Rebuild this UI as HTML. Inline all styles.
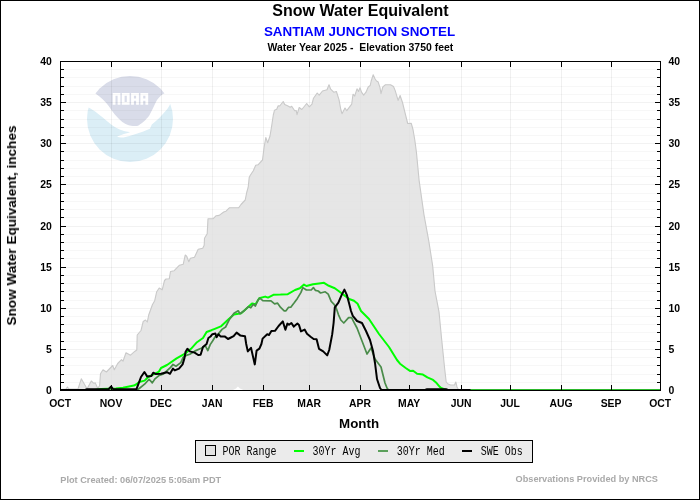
<!DOCTYPE html>
<html><head><meta charset="utf-8"><title>Snow Water Equivalent</title>
<style>html,body{margin:0;padding:0;background:#fff;}svg{display:block;}</style></head>
<body>
<svg width="700" height="500" viewBox="0 0 700 500">
<rect x="0" y="0" width="700" height="500" fill="#fff"/>
<g id="logo">
<clipPath id="cc"><circle cx="130" cy="119" r="43"/></clipPath>
<g clip-path="url(#cc)">
<path d="M80,70 H180 V93 L164.5,93.2 C162,94.5 159.5,96.5 157,100.1 C155.5,103 154.4,105.5 153.1,107.9 L149.3,115.6 C147.5,118 146,119.5 144.1,121.3 C142,123 140.5,124.2 139,125.2 C137.5,126 136,126.2 134.5,126.1 C132,126 130,125.6 128.7,125.2 C126,124.2 124,123.2 122.3,122 C119.5,119.6 117,117 114.6,114.3 C112,111 110,108 108.1,105.3 C105,101 101,97.5 95,93.2 L80,93 Z" fill="#d9dce9"/>
<path d="M82,104.5 L88.2,107.2 C94,110 101,116 108.1,122 C113,126 118,129.5 124,131 C127,131.6 129,132 130,132.3 C124,134 119,135.5 117.1,136.8 C119,137.6 121,137.6 123.6,137.4 C131,136 140,132.8 149.9,128.7 L151.8,124.6 C157,120.7 162,115.6 167.3,109.1 C169,106.5 170,104.5 170.5,102.7 L178,100 V165 H82 Z" fill="#dbeef6"/>
</g>
<g fill="#fff">
<path d="M112.7,104.7 V93.1 H120.4 V104.7 H117.6 V95.7 H115.5 V104.7 Z"/>
<path d="M121.8,93.1 H129.6 V104.7 H121.8 Z M124.6,95.7 V102.1 H126.8 V95.7 Z" fill-rule="evenodd"/>
<path d="M131.1,104.7 V93.1 H138.9 V104.7 H136.1 V100.8 H133.9 V104.7 Z M133.9,95.7 V98.4 H136.1 V95.7 Z" fill-rule="evenodd"/>
<path d="M140.4,104.7 V93.1 H148.2 V104.7 H145.4 V100.8 H143.2 V104.7 Z M143.2,95.7 V98.4 H145.4 V95.7 Z" fill-rule="evenodd"/>
</g>
</g>
<g shape-rendering="crispEdges">
<rect x="61" y="382" width="599" height="1" fill="#000" fill-opacity="0.033"/>
<rect x="61" y="374" width="599" height="1" fill="#000" fill-opacity="0.033"/>
<rect x="61" y="365" width="599" height="1" fill="#000" fill-opacity="0.033"/>
<rect x="61" y="357" width="599" height="1" fill="#000" fill-opacity="0.033"/>
<rect x="61" y="349" width="599" height="1" fill="#000" fill-opacity="0.05"/>
<rect x="61" y="341" width="599" height="1" fill="#000" fill-opacity="0.033"/>
<rect x="61" y="332" width="599" height="1" fill="#000" fill-opacity="0.033"/>
<rect x="61" y="324" width="599" height="1" fill="#000" fill-opacity="0.033"/>
<rect x="61" y="316" width="599" height="1" fill="#000" fill-opacity="0.033"/>
<rect x="61" y="308" width="599" height="1" fill="#000" fill-opacity="0.05"/>
<rect x="61" y="300" width="599" height="1" fill="#000" fill-opacity="0.033"/>
<rect x="61" y="291" width="599" height="1" fill="#000" fill-opacity="0.033"/>
<rect x="61" y="283" width="599" height="1" fill="#000" fill-opacity="0.033"/>
<rect x="61" y="275" width="599" height="1" fill="#000" fill-opacity="0.033"/>
<rect x="61" y="267" width="599" height="1" fill="#000" fill-opacity="0.05"/>
<rect x="61" y="258" width="599" height="1" fill="#000" fill-opacity="0.033"/>
<rect x="61" y="250" width="599" height="1" fill="#000" fill-opacity="0.033"/>
<rect x="61" y="242" width="599" height="1" fill="#000" fill-opacity="0.033"/>
<rect x="61" y="234" width="599" height="1" fill="#000" fill-opacity="0.033"/>
<rect x="61" y="226" width="599" height="1" fill="#000" fill-opacity="0.05"/>
<rect x="61" y="217" width="599" height="1" fill="#000" fill-opacity="0.033"/>
<rect x="61" y="209" width="599" height="1" fill="#000" fill-opacity="0.033"/>
<rect x="61" y="201" width="599" height="1" fill="#000" fill-opacity="0.033"/>
<rect x="61" y="193" width="599" height="1" fill="#000" fill-opacity="0.033"/>
<rect x="61" y="184" width="599" height="1" fill="#000" fill-opacity="0.05"/>
<rect x="61" y="176" width="599" height="1" fill="#000" fill-opacity="0.033"/>
<rect x="61" y="168" width="599" height="1" fill="#000" fill-opacity="0.033"/>
<rect x="61" y="160" width="599" height="1" fill="#000" fill-opacity="0.033"/>
<rect x="61" y="151" width="599" height="1" fill="#000" fill-opacity="0.033"/>
<rect x="61" y="143" width="599" height="1" fill="#000" fill-opacity="0.05"/>
<rect x="61" y="135" width="599" height="1" fill="#000" fill-opacity="0.033"/>
<rect x="61" y="127" width="599" height="1" fill="#000" fill-opacity="0.033"/>
<rect x="61" y="119" width="599" height="1" fill="#000" fill-opacity="0.033"/>
<rect x="61" y="110" width="599" height="1" fill="#000" fill-opacity="0.033"/>
<rect x="61" y="102" width="599" height="1" fill="#000" fill-opacity="0.05"/>
<rect x="61" y="94" width="599" height="1" fill="#000" fill-opacity="0.033"/>
<rect x="61" y="86" width="599" height="1" fill="#000" fill-opacity="0.033"/>
<rect x="61" y="77" width="599" height="1" fill="#000" fill-opacity="0.033"/>
<rect x="61" y="69" width="599" height="1" fill="#000" fill-opacity="0.033"/>
<rect x="111" y="62" width="1" height="328" fill="#000" fill-opacity="0.06"/>
<rect x="161" y="62" width="1" height="328" fill="#000" fill-opacity="0.06"/>
<rect x="212" y="62" width="1" height="328" fill="#000" fill-opacity="0.06"/>
<rect x="263" y="62" width="1" height="328" fill="#000" fill-opacity="0.06"/>
<rect x="309" y="62" width="1" height="328" fill="#000" fill-opacity="0.06"/>
<rect x="360" y="62" width="1" height="328" fill="#000" fill-opacity="0.06"/>
<rect x="409" y="62" width="1" height="328" fill="#000" fill-opacity="0.06"/>
<rect x="461" y="62" width="1" height="328" fill="#000" fill-opacity="0.06"/>
<rect x="510" y="62" width="1" height="328" fill="#000" fill-opacity="0.06"/>
<rect x="561" y="62" width="1" height="328" fill="#000" fill-opacity="0.06"/>
<rect x="611" y="62" width="1" height="328" fill="#000" fill-opacity="0.06"/>
</g>
<polygon points="60.5,389.5 66.0,389.0 67.4,387.0 69.0,389.0 78.0,389.0 81.3,378.8 86.6,388.0 87.5,388.0 91.3,381.0 93.8,383.3 95.3,382.9 97.8,388.5 99.6,385.5 100.5,373.8 103.0,369.8 106.4,372.0 112.7,365.5 114.3,369.8 117.7,363.5 121.5,359.7 123.0,361.2 126.0,352.7 130.5,355.2 135.0,351.2 136.8,350.0 137.2,335.0 141.0,330.5 143.2,321.5 145.5,320.0 147.3,322.0 148.7,315.0 152.5,304.5 154.7,300.7 156.7,291.7 159.2,288.0 162.2,289.8 164.5,280.5 166.0,279.0 169.3,278.7 170.5,271.5 174.2,270.7 179.5,265.2 183.2,264.3 185.2,255.0 186.7,256.2 188.8,261.7 190.4,258.3 194.5,257.2 198.2,249.3 202.7,248.2 204.2,245.2 204.5,238.2 207.2,233.7 208.0,218.7 213.2,218.7 216.2,215.7 219.2,215.4 223.7,212.0 226.0,211.2 229.3,207.8 238.7,207.8 241.0,204.5 245.2,200.0 246.7,192.5 248.2,187.2 249.2,177.5 250.3,175.2 253.3,170.7 255.7,165.2 258.0,164.8 262.5,160.0 264.0,148.0 265.8,137.5 267.7,142.7 270.0,136.0 271.5,127.0 273.3,115.0 274.5,110.2 276.7,109.3 278.2,105.7 279.7,106.0 283.2,101.5 284.7,104.5 288.0,106.0 290.2,107.2 291.7,106.3 294.7,110.8 296.2,110.5 297.0,114.7 299.2,107.5 301.8,109.5 306.7,103.5 309.3,106.8 312.0,104.2 313.5,98.2 317.2,93.0 319.2,95.2 322.5,91.0 327.0,89.7 329.0,84.7 330.7,89.2 333.7,92.2 336.4,91.5 339.0,99.7 340.8,109.5 342.0,113.7 345.0,108.0 346.8,110.7 351.7,104.2 353.0,94.2 354.7,96.0 357.0,88.8 358.5,91.5 360.0,87.7 361.5,92.2 363.7,95.2 366.0,92.2 368.2,87.0 370.2,85.5 371.2,81.0 373.2,74.7 375.0,78.7 376.5,81.0 378.0,81.7 380.0,87.7 381.0,93.7 382.8,87.0 385.5,84.7 390.5,84.8 393.5,86.5 395.2,90.6 398.1,100.4 400.1,95.5 402.5,102.5 404.7,111.5 407.7,123.5 411.2,123.2 413.0,129.5 414.8,140.0 416.4,152.0 419.2,181.2 424.0,214.8 428.8,241.2 432.7,266.0 435.0,291.0 439.0,311.8 441.5,337.7 444.7,369.0 446.2,382.0 448.0,384.0 450.6,385.0 454.5,385.0 455.8,382.0 457.0,387.0 458.4,389.5 460.0,389.5 460,390.5 244.5,390.5 240,388.6 237.9,386.4 236,388.6 232,390.5 60.5,390.5" fill="#e0e0e0" fill-opacity="0.8"/>
<polyline points="60.5,389.5 66.0,389.0 67.4,387.0 69.0,389.0 78.0,389.0 81.3,378.8 86.6,388.0 87.5,388.0 91.3,381.0 93.8,383.3 95.3,382.9 97.8,388.5 99.6,385.5 100.5,373.8 103.0,369.8 106.4,372.0 112.7,365.5 114.3,369.8 117.7,363.5 121.5,359.7 123.0,361.2 126.0,352.7 130.5,355.2 135.0,351.2 136.8,350.0 137.2,335.0 141.0,330.5 143.2,321.5 145.5,320.0 147.3,322.0 148.7,315.0 152.5,304.5 154.7,300.7 156.7,291.7 159.2,288.0 162.2,289.8 164.5,280.5 166.0,279.0 169.3,278.7 170.5,271.5 174.2,270.7 179.5,265.2 183.2,264.3 185.2,255.0 186.7,256.2 188.8,261.7 190.4,258.3 194.5,257.2 198.2,249.3 202.7,248.2 204.2,245.2 204.5,238.2 207.2,233.7 208.0,218.7 213.2,218.7 216.2,215.7 219.2,215.4 223.7,212.0 226.0,211.2 229.3,207.8 238.7,207.8 241.0,204.5 245.2,200.0 246.7,192.5 248.2,187.2 249.2,177.5 250.3,175.2 253.3,170.7 255.7,165.2 258.0,164.8 262.5,160.0 264.0,148.0 265.8,137.5 267.7,142.7 270.0,136.0 271.5,127.0 273.3,115.0 274.5,110.2 276.7,109.3 278.2,105.7 279.7,106.0 283.2,101.5 284.7,104.5 288.0,106.0 290.2,107.2 291.7,106.3 294.7,110.8 296.2,110.5 297.0,114.7 299.2,107.5 301.8,109.5 306.7,103.5 309.3,106.8 312.0,104.2 313.5,98.2 317.2,93.0 319.2,95.2 322.5,91.0 327.0,89.7 329.0,84.7 330.7,89.2 333.7,92.2 336.4,91.5 339.0,99.7 340.8,109.5 342.0,113.7 345.0,108.0 346.8,110.7 351.7,104.2 353.0,94.2 354.7,96.0 357.0,88.8 358.5,91.5 360.0,87.7 361.5,92.2 363.7,95.2 366.0,92.2 368.2,87.0 370.2,85.5 371.2,81.0 373.2,74.7 375.0,78.7 376.5,81.0 378.0,81.7 380.0,87.7 381.0,93.7 382.8,87.0 385.5,84.7 390.5,84.8 393.5,86.5 395.2,90.6 398.1,100.4 400.1,95.5 402.5,102.5 404.7,111.5 407.7,123.5 411.2,123.2 413.0,129.5 414.8,140.0 416.4,152.0 419.2,181.2 424.0,214.8 428.8,241.2 432.7,266.0 435.0,291.0 439.0,311.8 441.5,337.7 444.7,369.0 446.2,382.0 448.0,384.0 450.6,385.0 454.5,385.0 455.8,382.0 457.0,387.0 458.4,389.5 460.0,389.5" fill="none" stroke="#c9c9c9" stroke-width="1.1" stroke-linejoin="round"/>
<clipPath id="pc"><rect x="60" y="61" width="601" height="330"/></clipPath>
<g clip-path="url(#pc)" fill="none" stroke-width="2" stroke-linejoin="round" stroke-linecap="butt">
<polyline points="60.5,390.0 95.0,390.0 101.0,388.9 108.0,388.8 116.0,388.6 123.0,387.8 133.8,385.6 136.0,384.5 139.2,382.0 144.6,380.6 148.2,377.0 153.6,374.3 159.0,371.6 161.0,368.0 167.0,365.0 176.6,358.4 185.0,353.6 191.0,348.8 197.0,342.2 203.0,338.0 206.6,332.0 211.4,330.2 214.8,328.8 220.8,326.4 228.0,319.8 234.0,314.4 241.2,313.2 246.0,309.0 252.0,303.6 255.6,304.2 259.2,298.2 265.2,296.6 268.0,297.6 273.4,294.8 280.6,294.6 287.8,294.2 295.0,290.0 299.8,288.2 304.0,284.6 306.4,286.0 313.0,284.2 319.0,283.4 324.0,282.8 328.8,285.8 334.8,288.2 339.6,291.8 344.4,295.4 349.2,299.0 354.0,300.8 357.6,303.8 361.0,311.0 369.0,319.0 379.0,334.0 389.0,347.0 397.0,360.0 400.0,363.7 405.7,368.0 410.3,371.1 413.1,370.8 417.1,373.8 422.9,374.6 427.4,377.4 433.1,379.9 436.6,383.1 440.0,387.1 441.7,388.3 446.3,390.0 660.5,390.0" stroke="#00ff00"/>
<polyline points="60.5,390.0 137.4,390.0 144.6,384.2 149.1,379.3 152.3,382.9 155.0,378.8 158.6,375.8 163.4,374.0 170.6,367.4 173.0,364.4 176.0,366.2 180.8,362.6 183.2,357.2 186.2,355.4 189.8,354.2 195.8,350.6 201.2,348.2 205.4,345.8 207.8,350.6 210.2,344.6 212.6,341.0 215.0,337.0 217.2,335.4 222.0,329.4 225.6,327.0 229.2,319.8 234.0,313.2 238.2,310.8 240.0,313.8 244.8,310.2 248.4,306.6 250.8,307.8 253.2,304.2 255.4,306.0 258.0,300.0 259.8,298.2 262.8,300.6 271.0,300.8 274.6,303.8 277.6,303.2 280.6,307.4 284.2,310.8 286.0,310.8 288.4,307.4 290.8,307.2 294.4,302.6 297.4,298.4 301.0,292.4 302.8,287.6 306.4,290.0 311.2,290.0 313.4,287.6 315.5,290.4 318.2,291.0 320.6,293.0 325.2,291.8 328.2,294.2 331.2,301.4 333.6,303.8 336.0,307.4 338.4,314.6 340.8,320.0 343.8,323.0 348.6,317.6 351.6,317.6 354.0,322.4 357.0,328.0 362.0,341.0 367.0,354.0 371.0,348.0 375.0,359.0 381.0,367.0 385.0,383.0 387.0,388.0 388.5,390.0 660.5,390.0" stroke="#4a8c4a" stroke-width="1.7"/>
<rect x="388" y="389" width="272" height="1" fill="#2db82d" stroke="none" shape-rendering="crispEdges"/>
<polyline points="60.5,390.0 85.0,390.0 87.0,389.2 108.5,389.2 111.2,386.5 113.0,389.0 136.5,389.2 141.0,377.0 144.4,372.0 147.3,376.6 151.4,376.0 153.2,372.7 155.5,373.9 161.0,373.8 167.0,372.2 170.0,373.8 173.0,368.6 174.8,370.4 179.0,368.6 182.6,364.4 184.4,358.4 185.6,351.8 187.4,348.8 189.8,351.4 194.6,352.6 198.2,355.0 200.6,354.8 203.0,347.0 206.6,344.0 208.4,338.0 210.5,336.5 212.4,334.2 215.4,333.6 216.6,337.2 218.4,334.2 220.8,336.6 225.0,336.6 228.0,339.0 230.0,338.0 233.6,336.2 236.6,332.6 240.2,335.4 245.0,336.2 246.2,344.0 247.8,351.4 251.0,347.8 253.4,358.4 254.8,364.4 256.6,350.6 259.4,348.6 261.4,344.0 262.6,338.6 267.2,334.2 269.0,335.0 271.4,331.0 275.0,330.8 278.6,326.0 282.8,321.4 285.4,329.8 287.4,323.6 289.0,324.8 291.4,323.0 293.8,326.6 297.4,323.6 299.0,325.0 301.0,331.4 304.6,329.6 307.0,333.8 310.6,336.8 313.6,339.0 316.6,339.2 319.0,348.8 323.2,351.4 327.2,355.4 329.2,350.0 332.2,334.4 333.6,323.0 334.8,307.4 338.4,302.6 342.0,294.2 344.4,289.6 346.8,294.8 349.2,303.8 351.0,311.0 352.8,315.8 357.0,321.0 362.0,323.0 366.0,331.0 370.0,340.0 373.0,351.0 375.0,363.0 377.0,379.0 380.0,388.0 381.5,390.0 425.0,390.0 427.0,389.3 432.0,389.3 434.0,389.2 446.0,389.2 448.0,390.0 470.5,390.0" stroke="#000"/>
</g>
<g shape-rendering="crispEdges" fill="#000">
<rect x="60" y="61" width="601" height="1"/><rect x="60" y="390" width="601" height="1"/><rect x="60" y="61" width="1" height="330"/><rect x="660" y="61" width="1" height="330"/>
<rect x="61" y="382" width="3" height="1"/><rect x="657" y="382" width="3" height="1"/>
<rect x="61" y="374" width="3" height="1"/><rect x="657" y="374" width="3" height="1"/>
<rect x="61" y="365" width="3" height="1"/><rect x="657" y="365" width="3" height="1"/>
<rect x="61" y="357" width="3" height="1"/><rect x="657" y="357" width="3" height="1"/>
<rect x="61" y="349" width="5" height="1"/><rect x="655" y="349" width="5" height="1"/>
<rect x="61" y="341" width="3" height="1"/><rect x="657" y="341" width="3" height="1"/>
<rect x="61" y="332" width="3" height="1"/><rect x="657" y="332" width="3" height="1"/>
<rect x="61" y="324" width="3" height="1"/><rect x="657" y="324" width="3" height="1"/>
<rect x="61" y="316" width="3" height="1"/><rect x="657" y="316" width="3" height="1"/>
<rect x="61" y="308" width="5" height="1"/><rect x="655" y="308" width="5" height="1"/>
<rect x="61" y="300" width="3" height="1"/><rect x="657" y="300" width="3" height="1"/>
<rect x="61" y="291" width="3" height="1"/><rect x="657" y="291" width="3" height="1"/>
<rect x="61" y="283" width="3" height="1"/><rect x="657" y="283" width="3" height="1"/>
<rect x="61" y="275" width="3" height="1"/><rect x="657" y="275" width="3" height="1"/>
<rect x="61" y="267" width="5" height="1"/><rect x="655" y="267" width="5" height="1"/>
<rect x="61" y="258" width="3" height="1"/><rect x="657" y="258" width="3" height="1"/>
<rect x="61" y="250" width="3" height="1"/><rect x="657" y="250" width="3" height="1"/>
<rect x="61" y="242" width="3" height="1"/><rect x="657" y="242" width="3" height="1"/>
<rect x="61" y="234" width="3" height="1"/><rect x="657" y="234" width="3" height="1"/>
<rect x="61" y="226" width="5" height="1"/><rect x="655" y="226" width="5" height="1"/>
<rect x="61" y="217" width="3" height="1"/><rect x="657" y="217" width="3" height="1"/>
<rect x="61" y="209" width="3" height="1"/><rect x="657" y="209" width="3" height="1"/>
<rect x="61" y="201" width="3" height="1"/><rect x="657" y="201" width="3" height="1"/>
<rect x="61" y="193" width="3" height="1"/><rect x="657" y="193" width="3" height="1"/>
<rect x="61" y="184" width="5" height="1"/><rect x="655" y="184" width="5" height="1"/>
<rect x="61" y="176" width="3" height="1"/><rect x="657" y="176" width="3" height="1"/>
<rect x="61" y="168" width="3" height="1"/><rect x="657" y="168" width="3" height="1"/>
<rect x="61" y="160" width="3" height="1"/><rect x="657" y="160" width="3" height="1"/>
<rect x="61" y="151" width="3" height="1"/><rect x="657" y="151" width="3" height="1"/>
<rect x="61" y="143" width="5" height="1"/><rect x="655" y="143" width="5" height="1"/>
<rect x="61" y="135" width="3" height="1"/><rect x="657" y="135" width="3" height="1"/>
<rect x="61" y="127" width="3" height="1"/><rect x="657" y="127" width="3" height="1"/>
<rect x="61" y="119" width="3" height="1"/><rect x="657" y="119" width="3" height="1"/>
<rect x="61" y="110" width="3" height="1"/><rect x="657" y="110" width="3" height="1"/>
<rect x="61" y="102" width="5" height="1"/><rect x="655" y="102" width="5" height="1"/>
<rect x="61" y="94" width="3" height="1"/><rect x="657" y="94" width="3" height="1"/>
<rect x="61" y="86" width="3" height="1"/><rect x="657" y="86" width="3" height="1"/>
<rect x="61" y="77" width="3" height="1"/><rect x="657" y="77" width="3" height="1"/>
<rect x="61" y="69" width="3" height="1"/><rect x="657" y="69" width="3" height="1"/>
<rect x="111" y="62" width="1" height="5"/><rect x="111" y="385" width="1" height="5"/>
<rect x="161" y="62" width="1" height="5"/><rect x="161" y="385" width="1" height="5"/>
<rect x="212" y="62" width="1" height="5"/><rect x="212" y="385" width="1" height="5"/>
<rect x="263" y="62" width="1" height="5"/><rect x="263" y="385" width="1" height="5"/>
<rect x="309" y="62" width="1" height="5"/><rect x="309" y="385" width="1" height="5"/>
<rect x="360" y="62" width="1" height="5"/><rect x="360" y="385" width="1" height="5"/>
<rect x="409" y="62" width="1" height="5"/><rect x="409" y="385" width="1" height="5"/>
<rect x="461" y="62" width="1" height="5"/><rect x="461" y="385" width="1" height="5"/>
<rect x="510" y="62" width="1" height="5"/><rect x="510" y="385" width="1" height="5"/>
<rect x="561" y="62" width="1" height="5"/><rect x="561" y="385" width="1" height="5"/>
<rect x="611" y="62" width="1" height="5"/><rect x="611" y="385" width="1" height="5"/>
</g>
<rect x="0.5" y="0.5" width="699" height="499" fill="none" stroke="#000" stroke-width="1" shape-rendering="crispEdges"/>
<g shape-rendering="crispEdges"><rect x="195.5" y="440.5" width="337" height="22" fill="#ebebeb" stroke="#000" stroke-width="1"/>
<rect x="205.5" y="445.5" width="10" height="10" fill="#e2e2e2" stroke="#000" stroke-width="1"/>
<rect x="294" y="450" width="10" height="2" fill="#00ff00"/>
<rect x="378" y="450" width="10" height="2" fill="#5ba05b"/>
<rect x="462" y="450" width="10" height="2" fill="#000"/>
</g>
<g font-family="'Liberation Sans', sans-serif" font-weight="bold" fill="#000" opacity="0.999">
<text x="360.5" y="16" font-size="16" text-anchor="middle">Snow Water Equivalent</text>
<text x="359.5" y="35.6" font-size="13.4" text-anchor="middle" fill="#0000ff">SANTIAM JUNCTION SNOTEL</text>
<text x="360.4" y="50.7" font-size="10.45" text-anchor="middle" xml:space="preserve">Water Year 2025 -  Elevation 3750 feet</text>
<text x="51.8" y="394.0" font-size="10.45" text-anchor="end">0</text>
<text x="668.4" y="394.0" font-size="10.45" text-anchor="start">0</text>
<text x="51.8" y="352.9" font-size="10.45" text-anchor="end">5</text>
<text x="668.4" y="352.9" font-size="10.45" text-anchor="start">5</text>
<text x="51.8" y="311.8" font-size="10.45" text-anchor="end">10</text>
<text x="668.4" y="311.8" font-size="10.45" text-anchor="start">10</text>
<text x="51.8" y="270.6" font-size="10.45" text-anchor="end">15</text>
<text x="668.4" y="270.6" font-size="10.45" text-anchor="start">15</text>
<text x="51.8" y="229.5" font-size="10.45" text-anchor="end">20</text>
<text x="668.4" y="229.5" font-size="10.45" text-anchor="start">20</text>
<text x="51.8" y="188.4" font-size="10.45" text-anchor="end">25</text>
<text x="668.4" y="188.4" font-size="10.45" text-anchor="start">25</text>
<text x="51.8" y="147.2" font-size="10.45" text-anchor="end">30</text>
<text x="668.4" y="147.2" font-size="10.45" text-anchor="start">30</text>
<text x="51.8" y="106.1" font-size="10.45" text-anchor="end">35</text>
<text x="668.4" y="106.1" font-size="10.45" text-anchor="start">35</text>
<text x="51.8" y="65.0" font-size="10.45" text-anchor="end">40</text>
<text x="668.4" y="65.0" font-size="10.45" text-anchor="start">40</text>
<text x="60.1" y="407" font-size="10.4" text-anchor="middle">OCT</text>
<text x="111.1" y="407" font-size="10.4" text-anchor="middle">NOV</text>
<text x="161.1" y="407" font-size="10.4" text-anchor="middle">DEC</text>
<text x="212.1" y="407" font-size="10.4" text-anchor="middle">JAN</text>
<text x="263.1" y="407" font-size="10.4" text-anchor="middle">FEB</text>
<text x="309.1" y="407" font-size="10.4" text-anchor="middle">MAR</text>
<text x="360.1" y="407" font-size="10.4" text-anchor="middle">APR</text>
<text x="409.1" y="407" font-size="10.4" text-anchor="middle">MAY</text>
<text x="461.1" y="407" font-size="10.4" text-anchor="middle">JUN</text>
<text x="510.1" y="407" font-size="10.4" text-anchor="middle">JUL</text>
<text x="561.1" y="407" font-size="10.4" text-anchor="middle">AUG</text>
<text x="611.1" y="407" font-size="10.4" text-anchor="middle">SEP</text>
<text x="660.1" y="407" font-size="10.4" text-anchor="middle">OCT</text>
<text x="359.1" y="427.5" font-size="13.33" text-anchor="middle">Month</text>
<text transform="translate(16,225.5) rotate(-90)" font-size="13.57" text-anchor="middle">Snow Water Equivalent, inches</text>
<text x="60.3" y="483" font-size="9.2" fill="#a9a9a9">Plot Created: 06/07/2025 5:05am PDT</text>
<text x="658" y="481.8" font-size="9.2" fill="#a9a9a9" text-anchor="end">Observations Provided by NRCS</text>
<g font-family="'Liberation Mono', monospace" font-size="12" font-weight="normal">
<text transform="translate(222.5,455) scale(0.833,1)">POR Range</text><text transform="translate(312.6,455) scale(0.833,1)">30Yr Avg</text><text transform="translate(396.8,455) scale(0.833,1)">30Yr Med</text><text transform="translate(480.8,455) scale(0.833,1)">SWE Obs</text>
</g>
</g>
</svg>
</body></html>
